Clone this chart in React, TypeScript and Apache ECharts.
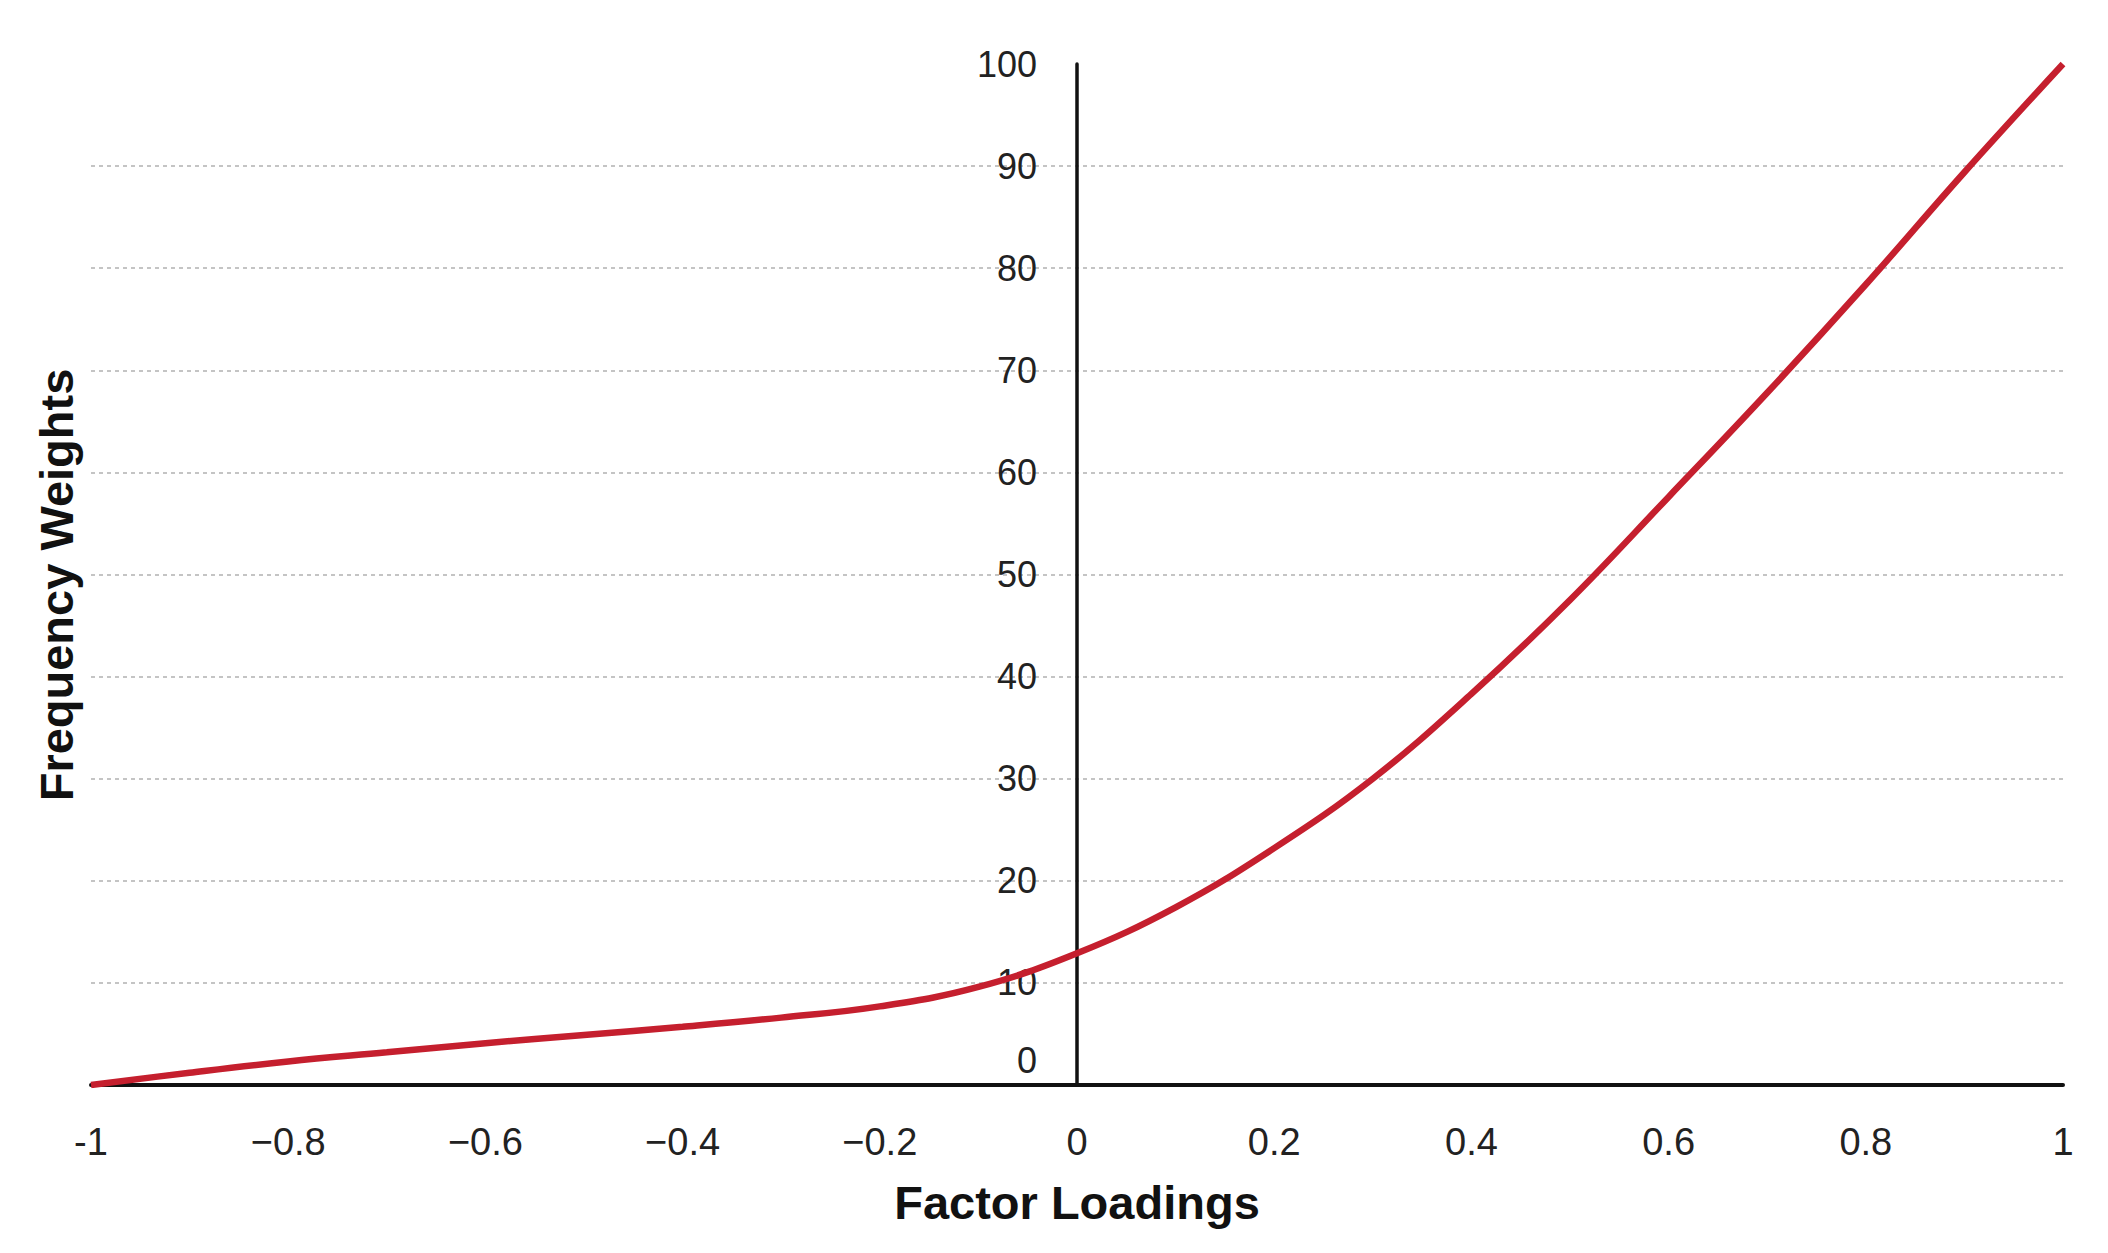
import React, { useEffect, useRef } from "react";
import * as echarts from "echarts";

const FACTOR_LOADINGS = [-1, -0.9, -0.8, -0.7, -0.6, -0.5, -0.4, -0.3, -0.2, -0.1, 0, 0.1, 0.2, 0.3, 0.4, 0.5, 0.6, 0.7, 0.8, 0.9, 1];
const FREQUENCY_WEIGHTS = [0, 1.2, 2.3, 3.2, 4.1, 4.9, 5.7, 6.6, 7.7, 9.6, 12.9, 17.4, 23.2, 30.0, 38.3, 47.5, 57.6, 67.8, 78.4, 89.4, 100];

const X_TITLE = "Factor Loadings";
const Y_TITLE = "Frequency Weights";

const FONT = "'Liberation Sans', Arial, Helvetica, sans-serif";

const GRID_LEFT = 91;
const GRID_RIGHT = 45;
const WIDTH = 2108;
const HEIGHT = 1253;

export default function App() {
  const ref = useRef<HTMLDivElement>(null);
  useEffect(() => {
    document.body.style.margin = "0";
    if (!ref.current) return;
    const chart = echarts.init(ref.current, undefined, { renderer: "svg" });
    const data = FACTOR_LOADINGS.map((x, i) => [x, FREQUENCY_WEIGHTS[i]]);
    const gridWidth = WIDTH - GRID_LEFT - GRID_RIGHT;
    chart.setOption({
      animation: false,
      backgroundColor: "#ffffff",
      grid: { left: GRID_LEFT, right: GRID_RIGHT, top: 64, bottom: 168, containLabel: false },
      xAxis: {
        type: "value",
        min: -1,
        max: 1,
        interval: 0.2,
        name: X_TITLE,
        nameLocation: "middle",
        nameGap: 94,
        nameTextStyle: { fontSize: 47, fontWeight: "bold", color: "#111", fontFamily: FONT },
        axisLine: { show: true, onZero: false, lineStyle: { color: "#111", width: 4 } },
        axisTick: { show: false },
        splitLine: { show: false },
        axisLabel: {
          fontSize: 38,
          color: "#222",
          fontFamily: FONT,
          margin: 38,
          formatter: (v: number) => {
            const r = Math.round(v * 10) / 10;
            if (r === -1) return "-1";
            if (r < 0) return "\u2212" + String(Math.abs(r));
            return String(r);
          },
        },
      },
      yAxis: {
        type: "value",
        min: 0,
        max: 100,
        interval: 10,
        position: "left",
        offset: -gridWidth / 2,
        axisLine: { show: true, onZero: false, lineStyle: { color: "#111", width: 3.5 } },
        axisTick: { show: false },
        splitLine: {
          show: true,
          showMinLine: false,
          showMaxLine: false,
          lineStyle: { color: "#c4c4c4", width: 2, type: [4, 4] },
        },
        axisLabel: {
          fontSize: 36,
          color: "#222",
          fontFamily: FONT,
          margin: 40,
          formatter: (v: number) => (v === 0 ? "{z|0}" : String(v)),
          rich: {
            z: { fontSize: 36, color: "#222", fontFamily: FONT, padding: [0, 0, 50, 0] },
          },
        },
      },
      graphic: [
        {
          type: "text",
          rotation: Math.PI / 2,
          x: 56,
          y: 585,
          style: {
            text: Y_TITLE,
            fontSize: 47,
            fontWeight: "bold",
            fill: "#111",
            fontFamily: FONT,
            align: "center",
            verticalAlign: "middle",
          },
        },
      ],
      series: [
        {
          type: "line",
          data,
          smooth: 0.4,
          showSymbol: false,
          symbol: "none",
          lineStyle: { color: "#c51f2e", width: 6.5 },
        },
      ],
    });
    return () => chart.dispose();
  }, []);
  return <div ref={ref} style={{ width: WIDTH, height: HEIGHT }} />;
}
